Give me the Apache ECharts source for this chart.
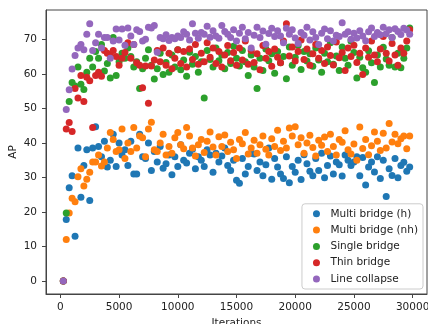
<!DOCTYPE html>
<html>
<head>
<meta charset="utf-8">
<script src="https://cdn.jsdelivr.net/npm/echarts@6/dist/echarts.min.js"></script>
<style>
  html, body { margin: 0; padding: 0; background: #fff; }
  #chart { width: 428px; height: 324px; }
</style>
</head>
<body>
<div id="chart"></div>
<script>
  // ==== data ====
  const iterations = [
    250, 500, 750, 1000, 1250, 1500, 1750, 2000, 2250, 2500,
    2750, 3000, 3250, 3500, 3750, 4000, 4250, 4500, 4750, 5000,
    5250, 5500, 5750, 6000, 6250, 6500, 6750, 7000, 7250, 7500,
    7750, 8000, 8250, 8500, 8750, 9000, 9250, 9500, 9750, 10000,
    10250, 10500, 10750, 11000, 11250, 11500, 11750, 12000, 12250, 12500,
    12750, 13000, 13250, 13500, 13750, 14000, 14250, 14500, 14750, 15000,
    15250, 15500, 15750, 16000, 16250, 16500, 16750, 17000, 17250, 17500,
    17750, 18000, 18250, 18500, 18750, 19000, 19250, 19500, 19750, 20000,
    20250, 20500, 20750, 21000, 21250, 21500, 21750, 22000, 22250, 22500,
    22750, 23000, 23250, 23500, 23750, 24000, 24250, 24500, 24750, 25000,
    25250, 25500, 25750, 26000, 26250, 26500, 26750, 27000, 27250, 27500,
    27750, 28000, 28250, 28500, 28750, 29000, 29250, 29500, 29750
  ]

  const multiBridgeH = [
    0, 17.8, 27, 30.5, 13, 38.5, 24.3, 33.5, 38, 23.3,
    38.5, 44.7, 39, 36, 40.5, 33, 35, 42.5, 33.2, 40,
    36.5, 38, 33.5, 40.5, 31, 31, 42.5, 36, 35.5, 40,
    32, 37.5, 34.5, 39, 32.7, 34, 36.5, 30.8, 36, 33.2,
    39.5, 35, 34.2, 37, 38.2, 32.5, 36, 35, 33.2, 38,
    36.5, 31.5, 37, 34.5, 36.2, 38.5, 33.5, 32, 35, 29.2,
    28.3, 35.5, 31, 33.2, 37, 36.8, 32, 34.5, 30.5, 33.7,
    38.5, 29.5, 35.5, 33, 31, 29.7, 36, 28.5, 33.2, 31.5,
    35, 29.4, 36.6, 34, 31.8, 30.5, 35.5, 32, 37, 29.9,
    33.5, 36.2, 31, 34.5, 33.7, 30.4, 36.5, 35, 33.5, 34.5,
    36, 30.5, 35.8, 27.8, 33, 34.5, 31.6, 36, 29.7, 35,
    24.5, 32.5, 30.6, 35.5, 29.9, 33.5, 34.4, 31.8, 33
  ]

  const multiBridgeNh = [
    0, 12, 19.7, 24, 23, 30.2, 32.5, 27.5, 29.5, 31.5,
    34.5, 34.5, 36.5, 33.3, 34.5, 38.5, 43, 41, 37.5, 38,
    44, 35.5, 40, 37.5, 44.5, 38.5, 42, 41.5, 36, 44,
    46, 38, 37.5, 40, 42.5, 36.5, 39, 37, 41.5, 43,
    39.5, 38.3, 44.5, 42, 38.5, 36.2, 39.5, 41, 37.2, 40.5,
    43.2, 38.8, 36.5, 41.8, 39, 42.3, 37.5, 40.2, 38, 35.5,
    41, 39.8, 43, 36.8, 38.5, 40.8, 37, 39.5, 42, 38.2,
    36.5, 41.2, 39, 43.7, 37.8, 40.5, 38.5, 44.3, 42, 44.7,
    39.5, 41.5, 37, 40, 42.2, 38.7, 36.2, 40.8, 39.3, 41.7,
    37.5, 42.5, 39, 36.5, 41, 40.2, 43.5, 38, 36.8, 39.7,
    35, 44.6, 38.4, 41, 36.6, 39.2, 43.2, 40.5, 37.8, 42.8,
    38.5, 45.6, 40.3, 42.5, 39.8, 41.2, 42, 38.3, 42
  ]

  const singleBridge = [
    0, 19.7, 52, 57.5, 56.5, 62, 57, 55.5, 60.5, 64.5,
    62, 66.5, 64.5, 68.5, 60.8, 63, 58.8, 70.5, 59.5, 63.5,
    66, 64.5, 67.5, 65, 62, 63.5, 55.8, 61.5, 64.5, 67,
    62.5, 58.5, 61.5, 66, 59.8, 63.3, 60.5, 65.5, 62, 67,
    61.2, 64, 59.3, 66.3, 62.8, 65, 60.5, 63.5, 53, 66.8,
    64.2, 62, 67.5, 63.8, 65.5, 61.5, 66.2, 63, 68, 64.5,
    62.3, 66.8, 63.5, 59.5, 65.5, 62, 55.8, 64.5, 61, 67.2,
    63.8, 65.8, 60.2, 66.5, 63.2, 65, 58.6, 67.8, 62.5, 64.8,
    68.2, 61.3, 66.5, 63.7, 65.8, 62.2, 67.5, 64, 60.5, 66,
    63.5, 69, 62.8, 65.2, 61, 67.8, 64.5, 62.5, 69.5, 66.2,
    58.8, 64.8, 61.8, 60.5, 66.7, 63.2, 57.5, 65.5, 62, 67.7,
    64.3, 62.5, 70.5, 62, 66, 61.8, 64.5, 67.5, 73.3
  ]

  const thinBridge = [
    0, 44, 45.9, 43.3, 55.8, 53, 59.5, 52, 59, 58,
    44.5, 59.5, 60.5, 59.3, 66.8, 66, 65.3, 66.8, 65, 62.5,
    64.5, 66.2, 69, 64.5, 68.5, 63.2, 62.5, 56, 62.3, 51.5,
    62.3, 64, 66.8, 63.5, 67.5, 62.5, 66, 61.5, 64.5, 67,
    63, 66.5, 62, 67.2, 64.2, 68.5, 62.8, 66, 63.5, 69,
    64.8, 67.5, 63, 66.5, 62, 65.5, 68.2, 63.8, 66.2, 62.5,
    67.5, 64, 69.5, 62.8, 66.8, 63.3, 65.8, 61.2, 68.2, 64.5,
    66.5, 62.2, 67.2, 64.8, 63.2, 69.5, 74.5, 65.2, 67.8, 63.7,
    66.5, 69.8, 64.2, 67.2, 62.5, 65.8, 68.5, 64.5, 66.8, 63,
    67.8, 65.3, 62.6, 69.2, 64.7, 66.2, 61, 67.5, 65, 68.3,
    63.3, 66, 59.8, 67.5, 64.8, 69.5, 65.5, 63.5, 67.2, 70.8,
    66, 63.7, 68.8, 65.5, 62.5, 67.5, 66, 69.5, 72.8
  ]

  const lineCollapse = [
    0, 49.7, 55.4, 61.4, 65.3, 67.5, 68.5, 67, 71.5, 74.5,
    66.8, 69, 71.5, 67.5, 70.5, 70.5, 64.5, 69.5, 73, 69.8,
    73, 68.3, 73.3, 71, 68.5, 72.8, 72.3, 69.5, 70, 73.5,
    73.3, 74, 66.3, 70.5, 70.2, 71.3, 69.7, 70.5, 70.2, 71,
    70.5, 72.2, 71.5, 69.8, 74.5, 71.8, 70.3, 72, 71.5, 73.8,
    70.6, 72.5, 71, 70.3, 74, 72.3, 71.5, 70.5, 72.8, 69.5,
    71.8, 73.5, 70.2, 72, 67.5, 71.2, 73.5, 70.5, 72.4, 68.6,
    71.7, 73.2, 70.8, 72.5, 71, 69, 73.2, 71.5, 72.8, 70.4,
    68.8, 72, 71.2, 73.5, 69.8, 72.2, 70.5, 68.5, 71.8, 73,
    70.2, 72.5, 69.5, 71.2, 70.8, 74.8, 71.5, 72.2, 70, 71.8,
    70.4, 72.5, 71, 69.6, 72.2, 73.3, 70.8, 72, 71.3, 73.5,
    71.6, 72.8, 70.5, 73.1, 72.3, 71.4, 73.2, 72.7, 71.5
  ]

  const xTicks = [0, 5000, 10000, 15000, 20000, 25000, 30000]
  const yTicks = [0, 10, 20, 30, 40, 50, 60, 70]

  const seriesList = [
    { name: 'Multi bridge (h)', values: multiBridgeH, color: '#1f77b4' },
    { name: 'Multi bridge (nh)', values: multiBridgeNh, color: '#ff7f0e' },
    { name: 'Single bridge', values: singleBridge, color: '#2ca02c' },
    { name: 'Thin bridge', values: thinBridge, color: '#d62728' },
    { name: 'Line collapse', values: lineCollapse, color: '#9467bd' }
  ]

  // ==== chart ====
  const chart = echarts.init(document.getElementById('chart'))
  const font = 'DejaVu Sans'
  const axisColor = '#444'
  const textColor = '#222'
  const fontSize = 10.5

  chart.setOption({
    animation: false,
    textStyle: { fontFamily: font },
    grid: {
      left: 46, right: 1, top: 10, bottom: 30,
      outerBoundsMode: 'none',
      containLabel: false,
      show: true, borderColor: axisColor, borderWidth: 1
    },
    xAxis: {
      type: 'value',
      min: -1225,
      max: 31225,
      name: 'Iterations',
      nameLocation: 'middle',
      nameGap: 24,
      nameMoveOverlap: false,
      nameTextStyle: { fontSize, color: textColor, fontFamily: font },
      splitLine: { show: false },
      axisLine: { show: true, onZero: false, lineStyle: { color: axisColor } },
      axisTick: { show: true, length: 4, customValues: xTicks, lineStyle: { color: axisColor } },
      axisLabel: {
        customValues: xTicks,
        formatter: (v) => String(v),
        fontSize, color: textColor, margin: 8, fontFamily: font
      }
    },
    yAxis: {
      type: 'value',
      min: -3.75,
      max: 78.5,
      name: 'AP',
      nameLocation: 'middle',
      nameGap: 27,
      nameMoveOverlap: false,
      nameTextStyle: { fontSize, color: textColor, fontFamily: font },
      splitLine: { show: false },
      axisLine: { show: true, onZero: false, lineStyle: { color: axisColor } },
      axisTick: { show: true, length: 4, customValues: yTicks, lineStyle: { color: axisColor } },
      axisLabel: {
        customValues: yTicks,
        formatter: (v) => String(v),
        fontSize, color: textColor, margin: 9, fontFamily: font
      }
    },
    legend: {
      orient: 'vertical',
      right: 5,
      bottom: 35,
      icon: 'circle',
      itemWidth: 18,
      itemHeight: 7,
      itemGap: 4.3,
      padding: [4, 5, 4, 11],
      backgroundColor: 'rgba(255,255,255,0.8)',
      borderColor: '#ccc',
      borderWidth: 1,
      borderRadius: 3,
      textStyle: { fontSize, lineHeight: 12, color: textColor, fontFamily: font },
      data: seriesList.map((s) => s.name)
    },
    series: seriesList.map((s) => ({
      name: s.name,
      type: 'scatter',
      symbol: 'circle',
      symbolSize: 7,
      itemStyle: { color: s.color, opacity: 1 },
      emphasis: { disabled: true },
      data: s.values.map((v, i) => [iterations[i], v])
    }))
  })
</script>
</body>
</html>
